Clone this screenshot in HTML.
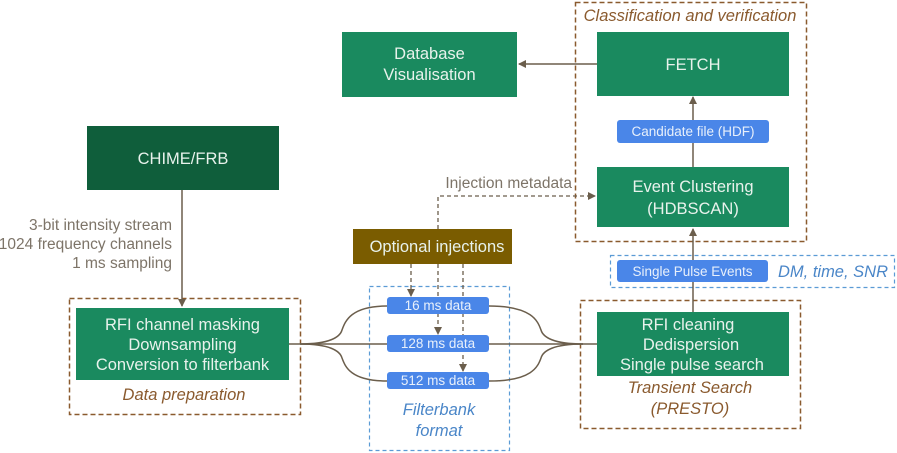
<!DOCTYPE html>
<html><head><meta charset="utf-8"><style>
html,body{margin:0;padding:0;background:#fff;}
svg{display:block;font-family:"Liberation Sans",sans-serif;}
</style></head><body>
<svg width="897" height="453" viewBox="0 0 897 453" xmlns="http://www.w3.org/2000/svg">
<defs>
<marker id="ah" markerWidth="8" markerHeight="8" refX="7" refY="4" orient="auto" markerUnits="userSpaceOnUse">
<path d="M0,0 L8,4 L0,8 z" fill="#6b5e4c"/></marker>
</defs>
<rect x="575.5" y="2.5" width="231" height="239" fill="none" stroke="#8a5a2e" stroke-width="1.5" stroke-dasharray="5,3"/>
<rect x="69.5" y="298.5" width="231" height="116" fill="none" stroke="#8a5a2e" stroke-width="1.5" stroke-dasharray="5,3"/>
<rect x="580.5" y="300.5" width="220" height="128" fill="none" stroke="#8a5a2e" stroke-width="1.5" stroke-dasharray="5,3"/>
<rect x="369.5" y="286.5" width="140" height="164" fill="none" stroke="#5b9bd5" stroke-width="1.2" stroke-dasharray="4,3"/>
<rect x="610.5" y="255.5" width="284" height="32" fill="none" stroke="#5b9bd5" stroke-width="1.2" stroke-dasharray="4,3"/>

<g stroke="#6b5e4c" stroke-width="1.5" fill="none">
<line x1="597" y1="64" x2="519" y2="64" marker-end="url(#ah)"/>
<line x1="693" y1="167" x2="693" y2="97" marker-end="url(#ah)"/>
<line x1="693" y1="312" x2="693" y2="229" marker-end="url(#ah)"/>
<line x1="182" y1="190" x2="182" y2="306" marker-end="url(#ah)"/>
<line x1="289" y1="344" x2="597" y2="344"/>
<path d="M300,344 C330,344 340,337 342,330 C345,322 350,306 387,306"/>
<path d="M300,344 C330,344 340,351 342,358 C345,366 350,381 387,381"/>
<path d="M583,344 C553,344 543,337 541,330 C538,322 533,306 489,306"/>
<path d="M583,344 C553,344 543,351 541,358 C538,366 533,381 489,381"/>
</g>
<g stroke="#6b5e4c" stroke-width="1.3" fill="none" stroke-dasharray="4,3">
<polyline points="438,229 438,196 595,196" marker-end="url(#ah)"/>
<line x1="411" y1="264" x2="411" y2="296" marker-end="url(#ah)"/>
<line x1="438" y1="264" x2="438" y2="334" marker-end="url(#ah)"/>
<line x1="463" y1="264" x2="463" y2="371" marker-end="url(#ah)"/>
</g>

<g font-size="16.5" fill="#e8f2ec" text-anchor="middle">
<rect x="342" y="32" width="175" height="65" fill="#1a8a5f"/>
<text x="429.5" y="59">Database</text><text x="429.5" y="80">Visualisation</text>
<rect x="597" y="32" width="192" height="64" fill="#1a8a5f"/>
<text x="693" y="70">FETCH</text>
<rect x="597" y="167" width="192" height="60" fill="#1a8a5f"/>
<text x="693" y="192">Event Clustering</text><text x="693" y="214">(HDBSCAN)</text>
<rect x="87" y="126" width="192" height="64" fill="#0f5e3b"/>
<text x="183" y="164">CHIME/FRB</text>
<rect x="76" y="308" width="213" height="72" fill="#1a8a5f"/>
<text x="182.5" y="330">RFI channel masking</text><text x="182.5" y="350">Downsampling</text><text x="182.5" y="370">Conversion to filterbank</text>
<rect x="597" y="312" width="192" height="64" fill="#1a8a5f"/>
<text x="688" y="330">RFI cleaning</text><text x="691" y="350">Dedispersion</text><text x="692" y="370">Single pulse search</text>
<rect x="353" y="229" width="159" height="35" fill="#7a5c00"/>
<text x="437" y="252">Optional injections</text>
</g>
<g fill="#4a86e8">
<rect x="617" y="120" width="152" height="23" rx="3"/>
<rect x="617" y="260" width="151" height="22" rx="3"/>
<rect x="387" y="297" width="102" height="17" rx="3"/>
<rect x="387" y="335" width="102" height="17" rx="3"/>
<rect x="387" y="372" width="102" height="17" rx="3"/>
</g>
<g font-size="13.5" fill="#e8f0fb" text-anchor="middle">
<text x="693" y="136">Candidate file (HDF)</text>
<text x="692.5" y="276">Single Pulse Events</text>
<text x="438" y="310">16 ms data</text>
<text x="438" y="348">128 ms data</text>
<text x="438" y="385">512 ms data</text>
</g>
<g font-size="16.5" fill="#8a5a2e" font-style="italic" text-anchor="middle">
<text x="690" y="21">Classification and verification</text>
<text x="184" y="400">Data preparation</text>
<text x="690" y="393">Transient Search</text>
<text x="690" y="414">(PRESTO)</text>
</g>
<g font-size="16.5" fill="#4a86c8" font-style="italic" text-anchor="middle">
<text x="439" y="415">Filterbank</text>
<text x="439" y="436">format</text>
<text x="833" y="277">DM, time, SNR</text>
</g>
<g font-size="15.5" fill="#7d7468" text-anchor="end">
<text x="172" y="230">3-bit intensity stream</text>
<text x="172" y="249">1024 frequency channels</text>
<text x="172" y="268">1 ms sampling</text>
<text x="572" y="188">Injection metadata</text>
</g>
</svg>
</body></html>
